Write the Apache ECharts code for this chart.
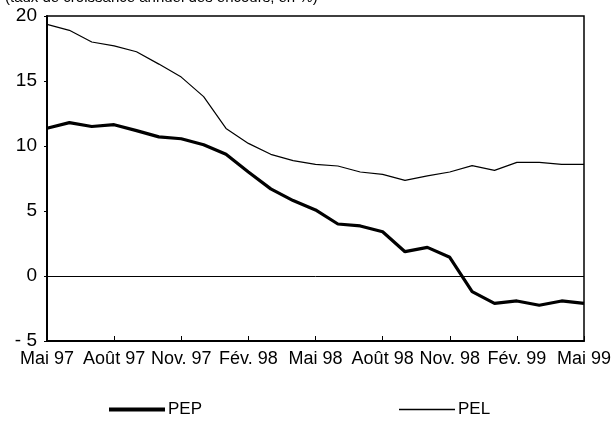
<!DOCTYPE html>
<html>
<head>
<meta charset="utf-8">
<script src="https://cdn.jsdelivr.net/npm/echarts@6/dist/echarts.min.js"></script>
<style>
  html, body { margin: 0; padding: 0; background: #fff; }
  #chart { width: 611px; height: 432px; }
</style>
</head>
<body>
<div id="chart"></div>
<script>
// mois, de mai 97 à mai 99
var mois = ['Mai 97', 'Juin 97', 'Juil. 97', 'Août 97', 'Sept. 97', 'Oct. 97', 'Nov. 97', 'Déc. 97',
    'Janv. 98', 'Fév. 98', 'Mars 98', 'Avr. 98', 'Mai 98', 'Juin 98', 'Juil. 98', 'Août 98',
    'Sept. 98', 'Oct. 98', 'Nov. 98', 'Déc. 98', 'Janv. 99', 'Fév. 99', 'Mars 99', 'Avr. 99', 'Mai 99'];

var pep = [11.36, 11.8, 11.5, 11.64, 11.18, 10.7, 10.56, 10.1, 9.36, 8.0, 6.7, 5.8, 5.08,
    4.0, 3.85, 3.4, 1.87, 2.2, 1.44, -1.2, -2.1, -1.92, -2.25, -1.92, -2.1];

var pel = [19.36, 18.9, 18.0, 17.7, 17.25, 16.3, 15.3, 13.8, 11.35, 10.2, 9.36, 8.87, 8.59,
    8.46, 8.0, 7.82, 7.36, 7.7, 8.0, 8.49, 8.13, 8.74, 8.74, 8.59, 8.59];

var yTicks = { min: -5, max: 20, step: 5 };

var police = 'Liberation Sans, Arial, sans-serif';

var option = {
    animation: false,
    backgroundColor: '#fff',
    title: {
        text: '(taux de croissance annuel des encours, en %)',
        left: 0,
        top: -15,
        textStyle: { fontFamily: police, fontSize: 15, fontWeight: 'normal', color: '#000' }
    },
    grid: {
        left: 47, right: 27, top: 16, bottom: 91,
        containLabel: false,
        outerBoundsMode: 'none',
        show: true, borderColor: '#000', borderWidth: 1.5
    },
    legend: [
        {
            data: [{ name: 'PEP', icon: 'rect' }], left: 104, top: 396,
            itemWidth: 56, itemHeight: 4, itemGap: 3,
            textStyle: { fontFamily: police, fontSize: 17, color: '#000', padding: [0, 0, 0, -2] }
        },
        {
            data: [{ name: 'PEL', icon: 'rect' }], left: 394, top: 396,
            itemWidth: 56, itemHeight: 1.3, itemGap: 3,
            textStyle: { fontFamily: police, fontSize: 17, color: '#000', padding: [0, 0, 0, -2] }
        }
    ],
    xAxis: {
        type: 'category',
        data: mois,
        boundaryGap: false,
        axisLine: { onZero: false, lineStyle: { color: '#000', width: 2 } },
        axisTick: { inside: true, length: 5, interval: 2, lineStyle: { color: '#000', width: 1 } },
        axisLabel: {
            interval: 2, margin: 9, color: '#000', fontFamily: police, fontSize: 18,
            showMaxLabel: true, showMinLabel: true
        },
        splitLine: { show: false }
    },
    yAxis: {
        type: 'value',
        min: yTicks.min,
        max: yTicks.max,
        interval: yTicks.step,
        axisLine: { show: true, lineStyle: { color: '#000', width: 2 } },
        axisTick: { show: true, length: 3, lineStyle: { color: '#000' } },
        axisLabel: {
            margin: 10, color: '#000', fontFamily: police, fontSize: 19,
            formatter: function (v) { return v < 0 ? '- ' + Math.abs(v) : String(v); }
        },
        splitLine: { show: false }
    },
    series: [
        {
            name: 'PEP',
            type: 'line',
            data: pep,
            symbol: 'none',
            lineStyle: { color: '#000', width: 3.2 },
            itemStyle: { color: '#000' },
            // ligne du zéro
            markLine: {
                silent: true,
                symbol: 'none',
                label: { show: false },
                lineStyle: { color: '#000', width: 1, type: 'solid' },
                data: [{ yAxis: 0 }]
            }
        },
        {
            name: 'PEL',
            type: 'line',
            data: pel,
            symbol: 'none',
            lineStyle: { color: '#000', width: 1.2 },
            itemStyle: { color: '#000' }
        }
    ]
};

var chart = echarts.init(document.getElementById('chart'));
chart.setOption(option);
</script>
</body>
</html>
